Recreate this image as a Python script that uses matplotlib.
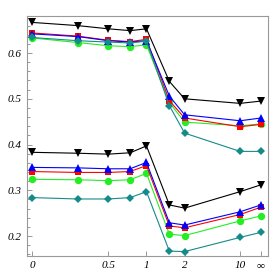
import numpy as np
import matplotlib
matplotlib.use("Agg")
import matplotlib.pyplot as plt
from matplotlib.ticker import FixedLocator, MultipleLocator

x_values = [0, 0.25, 0.5, 0.75, 1, 1.5, 2, 10, np.inf]
x_ticks = [0, 0.5, 1, 2, 10, np.inf]
x_tick_labels = ["0", "0.5", "1", "2", "10", "\u221e"]

# upper group
black_up = [0.667, 0.660, 0.653, 0.649, 0.653, 0.538, 0.500, 0.490, 0.495]
blue_up = [0.642, 0.636, 0.627, 0.624, 0.627, 0.506, 0.465, 0.452, 0.458]
red_up = [0.644, 0.637, 0.628, 0.625, 0.630, 0.496, 0.458, 0.439, 0.444]
green_up = [0.633, 0.623, 0.616, 0.614, 0.618, 0.492, 0.449, 0.441, 0.445]
teal_up = [0.634, 0.627, 0.624, 0.622, 0.626, 0.485, 0.425, 0.385, 0.385]

# lower group
black_lo = [0.383, 0.381, 0.379, 0.382, 0.397, 0.268, 0.261, 0.297, 0.312]
blue_lo = [0.350, 0.349, 0.347, 0.347, 0.361, 0.229, 0.224, 0.253, 0.268]
red_lo = [0.341, 0.339, 0.339, 0.341, 0.354, 0.222, 0.218, 0.247, 0.263]
green_lo = [0.324, 0.323, 0.321, 0.323, 0.337, 0.204, 0.201, 0.233, 0.244]
teal_lo = [0.284, 0.281, 0.281, 0.284, 0.297, 0.167, 0.166, 0.197, 0.208]


def tr(v):
    v = np.asarray(v, dtype=float)
    out = np.where(np.isinf(v), 1.0, v / (1.0 + np.where(np.isinf(v), 0, v)))
    return out


fig = plt.figure(figsize=(2.74, 2.74), dpi=100)
ax = fig.add_axes([27 / 274, 1 - 255.7 / 274, (268 - 27) / 274, (255.7 - 16) / 274])

t = tr(x_values)
styles = [
    (green_up, green_lo, "#22ee22", "o", 5.3),
    (red_up, red_lo, "#ff0000", "s", 4.5),
    (blue_up, blue_lo, "#0000ff", "^", 5.5),
    (teal_up, teal_lo, "#158a8a", "D", 4.0),
    (black_up, black_lo, "#000000", "v", 5.5),
]
for up, lo, c, m, ms in styles:
    for ys in (up, lo):
        ax.plot(t, ys, color=c, marker=m, markersize=ms, linewidth=0.8,
                markeredgewidth=0)

ax.set_xlim(-0.022, 1.031)
ax.set_ylim(0.157, 0.681)

ax.xaxis.set_major_locator(FixedLocator(tr(x_ticks)))
ax.set_xticklabels(x_tick_labels)
ax.yaxis.set_major_locator(FixedLocator([0.2, 0.3, 0.4, 0.5, 0.6]))
ax.set_yticklabels(["0.2", "0.3", "0.4", "0.5", "0.6"])
ax.yaxis.set_minor_locator(MultipleLocator(0.02))

for sp in ax.spines.values():
    sp.set_color("#999999")
    sp.set_linewidth(0.8)

ax.tick_params(which="both", direction="in", color="#888888", width=0.6)
ax.tick_params(which="major", length=3.5)
ax.tick_params(which="minor", length=2)
ax.tick_params(top=False, right=False)
ax.tick_params(axis="both", labelsize=8, pad=4)
for lab in ax.get_xticklabels() + ax.get_yticklabels():
    lab.set_fontfamily("Liberation Serif")
    lab.set_fontstyle("italic")

fig.savefig("out.png", dpi=100)
